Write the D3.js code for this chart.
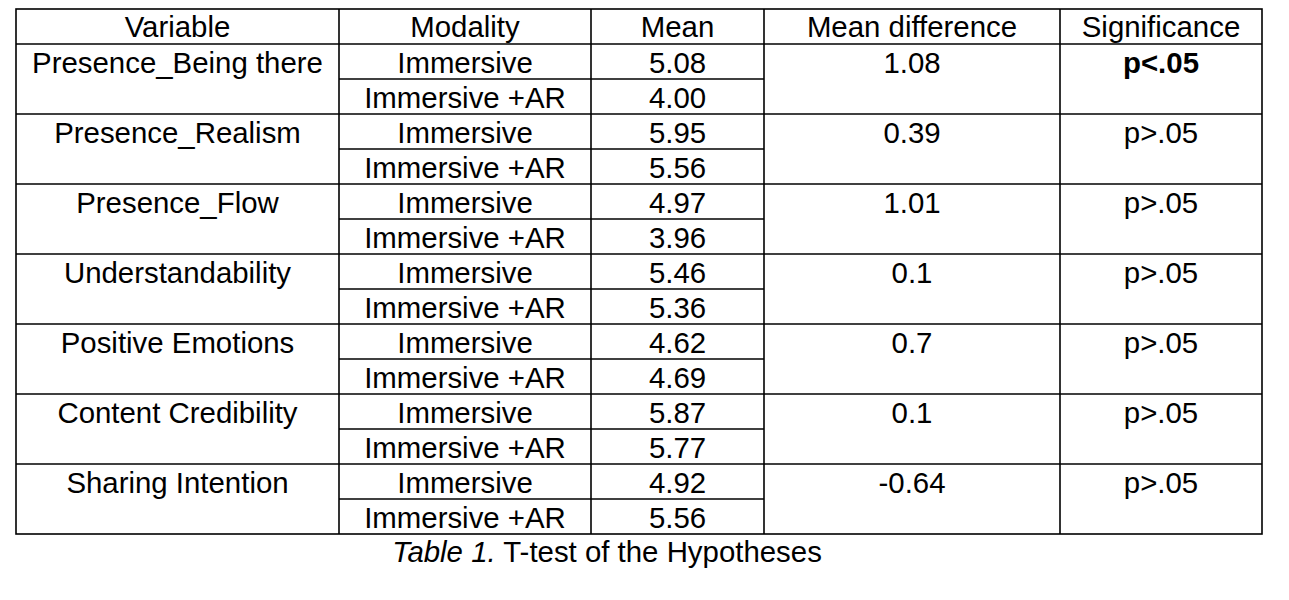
<!DOCTYPE html>
<html>
<head>
<meta charset="utf-8">
<script src="https://cdn.jsdelivr.net/npm/d3@7"></script>
<style>
  body { margin: 0; background: #fff; }
  svg { display: block; }
  text { font-family: "Liberation Sans", Arial, sans-serif; fill: #000; }
</style>
</head>
<body>
<div id="chart"></div>
<script>
// table data
const headers = ['Variable', 'Modality', 'Mean', 'Mean difference', 'Significance'];
const variables = ['Presence_Being there', 'Presence_Realism', 'Presence_Flow', 'Understandability',
    'Positive Emotions', 'Content Credibility', 'Sharing Intention'];
const modalities = ['Immersive', 'Immersive +AR'];
const meansImmersive = ['5.08', '5.95', '4.97', '5.46', '4.62', '5.87', '4.92'];
const meansAR = ['4.00', '5.56', '3.96', '5.36', '4.69', '5.77', '5.56'];
const meanDiffs = ['1.08', '0.39', '1.01', '0.1', '0.7', '0.1', '-0.64'];
const significance = ['p<.05', 'p>.05', 'p>.05', 'p>.05', 'p>.05', 'p>.05', 'p>.05'];
const boldSig = ['p<.05'];

const W = 1289, H = 600;
const colEdges = [16, 339, 591, 764, 1060, 1262];
const tableTop = 9, headerH = 35, subRowH = 35;
const fontSize = 29.4;

const svg = d3.select('#chart').append('svg')
    .attr('width', W).attr('height', H);

// rows: header + 2 sub-rows per variable
const subRows = [];
variables.forEach((v, i) => modalities.forEach((m, j) => subRows.push({ vi: i, mi: j })));

const xCol = d3.scaleOrdinal().domain(headers)
    .range(headers.map((h, i) => (colEdges[i] + colEdges[i + 1]) / 2));
const yRow = d3.scaleBand().domain(d3.range(subRows.length))
    .range([tableTop + headerH, tableTop + headerH + subRows.length * subRowH]);
const tableBottom = yRow.range()[1];

const lines = svg.append('g').attr('stroke', '#000').attr('stroke-width', 1.6);
const txt = svg.append('g').attr('font-size', fontSize).attr('text-anchor', 'middle');

// outer border
lines.append('rect')
    .attr('x', colEdges[0]).attr('y', tableTop)
    .attr('width', colEdges[5] - colEdges[0]).attr('height', tableBottom - tableTop)
    .attr('fill', 'none');

// vertical dividers
colEdges.slice(1, -1).forEach(x => {
    lines.append('line').attr('x1', x).attr('x2', x).attr('y1', tableTop).attr('y2', tableBottom);
});

// header bottom + group separators
variables.forEach((v, i) => {
    const y = yRow(i * 2);
    lines.append('line').attr('x1', colEdges[0]).attr('x2', colEdges[5]).attr('y1', y).attr('y2', y);
    // sub-row separator only under Modality and Mean
    const ys = yRow(i * 2 + 1);
    lines.append('line').attr('x1', colEdges[1]).attr('x2', colEdges[3]).attr('y1', ys).attr('y2', ys);
});

// header text
headers.forEach(h => {
    txt.append('text').attr('x', xCol(h)).attr('y', tableTop + 28).text(h);
});

// body
subRows.forEach((r, k) => {
    const base = yRow(k) + 29;
    txt.append('text').attr('x', xCol('Modality')).attr('y', base).text(modalities[r.mi]);
    txt.append('text').attr('x', xCol('Mean')).attr('y', base)
        .text(r.mi === 0 ? meansImmersive[r.vi] : meansAR[r.vi]);
    if (r.mi === 0) {
        txt.append('text').attr('x', xCol('Variable')).attr('y', base).text(variables[r.vi]);
        txt.append('text').attr('x', xCol('Mean difference')).attr('y', base).text(meanDiffs[r.vi]);
        txt.append('text').attr('x', xCol('Significance')).attr('y', base)
            .attr('font-weight', boldSig.includes(significance[r.vi]) ? 'bold' : 'normal')
            .text(significance[r.vi]);
    }
});

// caption
const cap = svg.append('text')
    .attr('x', 607).attr('y', tableBottom + 28)
    .attr('text-anchor', 'middle').attr('font-size', fontSize);
cap.append('tspan').attr('font-style', 'italic').text('Table 1.');
cap.append('tspan').text(' T-test of the Hypotheses');
</script>
</body>
</html>
